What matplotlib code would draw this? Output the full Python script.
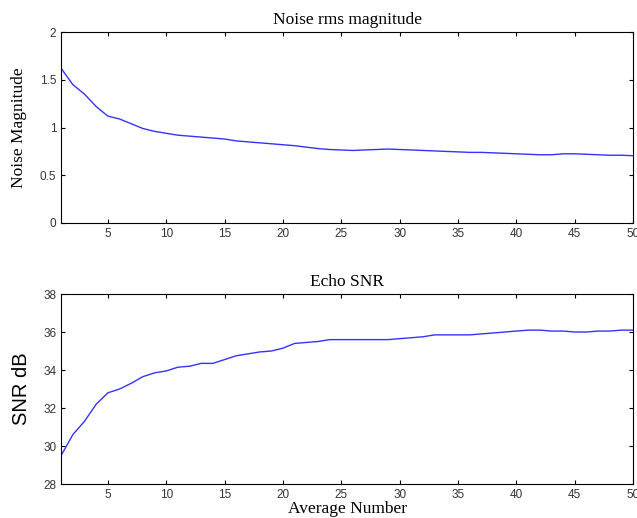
import numpy as np
import matplotlib.pyplot as plt

# averages 1..50
avg_num = np.arange(1, 51)

noise_mag = [1.62, 1.45, 1.35, 1.22, 1.12, 1.09, 1.04, 0.99, 0.96, 0.94,
             0.92, 0.91, 0.90, 0.89, 0.88, 0.86, 0.85, 0.84, 0.83, 0.82,
             0.81, 0.795, 0.78, 0.77, 0.765, 0.76, 0.765, 0.77, 0.775, 0.77,
             0.765, 0.76, 0.755, 0.75, 0.745, 0.74, 0.74, 0.735, 0.73, 0.725,
             0.72, 0.715, 0.715, 0.725, 0.725, 0.72, 0.715, 0.71, 0.71, 0.705]

snr_db = [29.5, 30.6, 31.3, 32.2, 32.8, 33.0, 33.3, 33.65, 33.85, 33.95,
          34.15, 34.2, 34.35, 34.35, 34.55, 34.75, 34.85, 34.95, 35.0, 35.15,
          35.4, 35.45, 35.5, 35.6, 35.6, 35.6, 35.6, 35.6, 35.6, 35.65,
          35.7, 35.75, 35.85, 35.85, 35.85, 35.85, 35.9, 35.95, 36.0, 36.05,
          36.1, 36.1, 36.05, 36.05, 36.0, 36.0, 36.05, 36.05, 36.1, 36.1]

xticks = [5, 10, 15, 20, 25, 30, 35, 40, 45, 50]

serif = 'Liberation Serif'
sans = 'Liberation Sans'

fig = plt.figure(figsize=(6.37, 5.18), dpi=100)
ax1 = fig.add_axes([0.096, 0.5695, 0.898, 0.3685])
ax2 = fig.add_axes([0.096, 0.0656, 0.898, 0.3668])

for ax in (ax1, ax2):
    ax.set_xlim(1, 50)
    ax.set_xticks(xticks)
    ax.tick_params(direction='in', top=True, right=True, length=3,
                   labelsize=8.5, labelcolor='#333333', width=0.8)
    for lab in ax.get_xticklabels() + ax.get_yticklabels():
        lab.set_fontfamily(sans)
    for s in ax.spines.values():
        s.set_linewidth(0.8)

ax1.plot(avg_num, noise_mag, color='#3333ff', lw=1)
ax1.set_ylim(0, 2)
ax1.set_yticks([0, 0.5, 1, 1.5, 2])
ax1.set_yticklabels(['0', '0.5', '1', '1.5', '2'], fontfamily=sans)
ax1.set_title('Noise rms magnitude', fontfamily=serif, fontsize=12.5, pad=6)
ax1.set_ylabel('Noise Magnitude', fontfamily=serif, fontsize=12.5, labelpad=9)

ax2.plot(avg_num, snr_db, color='#3333ff', lw=1)
ax2.set_ylim(28, 38)
ax2.set_yticks([28, 30, 32, 34, 36, 38])
ax2.set_yticklabels(['28', '30', '32', '34', '36', '38'], fontfamily=sans)
ax2.set_title('Echo SNR', fontfamily=serif, fontsize=12.5, pad=6)
ax2.set_ylabel('SNR dB', fontfamily=sans, fontsize=14.5, labelpad=9)
ax2.set_xlabel('Average Number', fontfamily=serif, fontsize=12.5, labelpad=0)

fig.savefig('out.png', dpi=100)
